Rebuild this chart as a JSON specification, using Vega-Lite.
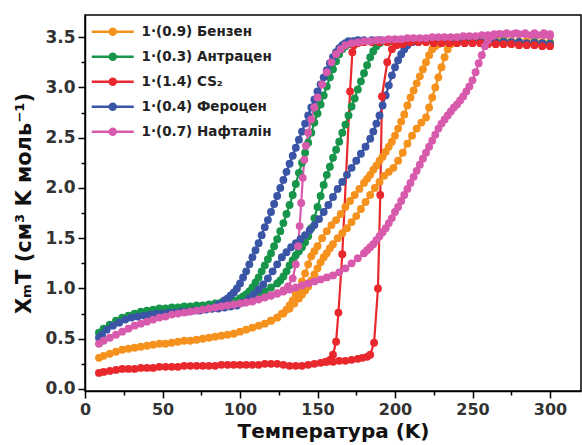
{
"$schema":"https://vega.github.io/schema/vega-lite/v6.json",
"width":496,"height":376,
"autosize":{"type":"none"},
"padding":{"left":85,"top":15,"right":1,"bottom":54},
"background":"white",
"config":{"view":{"stroke":"black","strokeWidth":1.5},"font":"DejaVu Sans"},
"data":{"values":[
{"series":"o","branch":"c","T":300,"chi":3.45},{"series":"o","branch":"c","T":295,"chi":3.45},{"series":"o","branch":"c","T":290,"chi":3.46},{"series":"o","branch":"c","T":285,"chi":3.46},{"series":"o","branch":"c","T":280,"chi":3.46},{"series":"o","branch":"c","T":275,"chi":3.46},{"series":"o","branch":"c","T":270,"chi":3.47},{"series":"o","branch":"c","T":265,"chi":3.47},{"series":"o","branch":"c","T":260,"chi":3.47},{"series":"o","branch":"c","T":255,"chi":3.47},{"series":"o","branch":"c","T":250,"chi":3.47},{"series":"o","branch":"c","T":245,"chi":3.47},{"series":"o","branch":"c","T":240,"chi":3.47},{"series":"o","branch":"c","T":235,"chi":3.46},{"series":"o","branch":"c","T":231,"chi":3.45},{"series":"o","branch":"c","T":228,"chi":3.43},{"series":"o","branch":"c","T":226,"chi":3.41},{"series":"o","branch":"c","T":224,"chi":3.38},{"series":"o","branch":"c","T":222,"chi":3.32},{"series":"o","branch":"c","T":220,"chi":3.25},{"series":"o","branch":"c","T":218,"chi":3.18},{"series":"o","branch":"c","T":216,"chi":3.11},{"series":"o","branch":"c","T":214,"chi":3.04},{"series":"o","branch":"c","T":212,"chi":2.97},{"series":"o","branch":"c","T":210,"chi":2.9},{"series":"o","branch":"c","T":208,"chi":2.82},{"series":"o","branch":"c","T":206,"chi":2.73},{"series":"o","branch":"c","T":204,"chi":2.66},{"series":"o","branch":"c","T":202,"chi":2.59},{"series":"o","branch":"c","T":200,"chi":2.52},{"series":"o","branch":"c","T":198,"chi":2.46},{"series":"o","branch":"c","T":196,"chi":2.41},{"series":"o","branch":"c","T":194,"chi":2.36},{"series":"o","branch":"c","T":192,"chi":2.31},{"series":"o","branch":"c","T":190,"chi":2.27},{"series":"o","branch":"c","T":188,"chi":2.22},{"series":"o","branch":"c","T":186,"chi":2.18},{"series":"o","branch":"c","T":184,"chi":2.13},{"series":"o","branch":"c","T":182,"chi":2.09},{"series":"o","branch":"c","T":180,"chi":2.05},{"series":"o","branch":"c","T":177,"chi":1.99},{"series":"o","branch":"c","T":174,"chi":1.93},{"series":"o","branch":"c","T":171,"chi":1.87},{"series":"o","branch":"c","T":168,"chi":1.81},{"series":"o","branch":"c","T":165,"chi":1.74},{"series":"o","branch":"c","T":162,"chi":1.68},{"series":"o","branch":"c","T":159,"chi":1.63},{"series":"o","branch":"c","T":156,"chi":1.57},{"series":"o","branch":"c","T":153,"chi":1.5},{"series":"o","branch":"c","T":150,"chi":1.42},{"series":"o","branch":"c","T":148,"chi":1.37},{"series":"o","branch":"c","T":146,"chi":1.32},{"series":"o","branch":"c","T":144,"chi":1.24},{"series":"o","branch":"c","T":142,"chi":1.15},{"series":"o","branch":"c","T":140,"chi":1.07},{"series":"o","branch":"c","T":138,"chi":1.0},{"series":"o","branch":"c","T":136,"chi":0.94},{"series":"o","branch":"c","T":134,"chi":0.88},{"series":"o","branch":"c","T":132,"chi":0.83},{"series":"o","branch":"c","T":130,"chi":0.79},{"series":"o","branch":"c","T":127,"chi":0.75},{"series":"o","branch":"c","T":124,"chi":0.71},{"series":"o","branch":"c","T":120,"chi":0.68},{"series":"o","branch":"c","T":116,"chi":0.65},{"series":"o","branch":"c","T":112,"chi":0.63},{"series":"o","branch":"c","T":108,"chi":0.61},{"series":"o","branch":"c","T":104,"chi":0.59},{"series":"o","branch":"c","T":100,"chi":0.57},{"series":"o","branch":"c","T":96,"chi":0.55},{"series":"o","branch":"c","T":92,"chi":0.54},{"series":"o","branch":"c","T":88,"chi":0.53},{"series":"o","branch":"c","T":84,"chi":0.52},{"series":"o","branch":"c","T":80,"chi":0.51},{"series":"o","branch":"c","T":76,"chi":0.5},{"series":"o","branch":"c","T":72,"chi":0.49},{"series":"o","branch":"c","T":68,"chi":0.48},{"series":"o","branch":"c","T":64,"chi":0.48},{"series":"o","branch":"c","T":60,"chi":0.47},{"series":"o","branch":"c","T":56,"chi":0.46},{"series":"o","branch":"c","T":52,"chi":0.45},{"series":"o","branch":"c","T":48,"chi":0.45},{"series":"o","branch":"c","T":44,"chi":0.44},{"series":"o","branch":"c","T":40,"chi":0.43},{"series":"o","branch":"c","T":36,"chi":0.42},{"series":"o","branch":"c","T":32,"chi":0.41},{"series":"o","branch":"c","T":28,"chi":0.4},{"series":"o","branch":"c","T":24,"chi":0.39},{"series":"o","branch":"c","T":20,"chi":0.37},{"series":"o","branch":"c","T":16,"chi":0.35},{"series":"o","branch":"c","T":12,"chi":0.33},{"series":"o","branch":"c","T":9,"chi":0.31},
{"series":"o","branch":"w","T":120,"chi":0.68},{"series":"o","branch":"w","T":124,"chi":0.71},{"series":"o","branch":"w","T":128,"chi":0.75},{"series":"o","branch":"w","T":132,"chi":0.8},{"series":"o","branch":"w","T":135,"chi":0.85},{"series":"o","branch":"w","T":138,"chi":0.9},{"series":"o","branch":"w","T":140,"chi":0.94},{"series":"o","branch":"w","T":142,"chi":0.98},{"series":"o","branch":"w","T":144,"chi":1.02},{"series":"o","branch":"w","T":146,"chi":1.08},{"series":"o","branch":"w","T":148,"chi":1.14},{"series":"o","branch":"w","T":150,"chi":1.2},{"series":"o","branch":"w","T":152,"chi":1.26},{"series":"o","branch":"w","T":154,"chi":1.31},{"series":"o","branch":"w","T":156,"chi":1.35},{"series":"o","branch":"w","T":158,"chi":1.4},{"series":"o","branch":"w","T":160,"chi":1.44},{"series":"o","branch":"w","T":163,"chi":1.5},{"series":"o","branch":"w","T":166,"chi":1.55},{"series":"o","branch":"w","T":169,"chi":1.6},{"series":"o","branch":"w","T":172,"chi":1.66},{"series":"o","branch":"w","T":175,"chi":1.72},{"series":"o","branch":"w","T":178,"chi":1.79},{"series":"o","branch":"w","T":181,"chi":1.86},{"series":"o","branch":"w","T":184,"chi":1.93},{"series":"o","branch":"w","T":187,"chi":2.0},{"series":"o","branch":"w","T":190,"chi":2.06},{"series":"o","branch":"w","T":193,"chi":2.12},{"series":"o","branch":"w","T":196,"chi":2.16},{"series":"o","branch":"w","T":199,"chi":2.2},{"series":"o","branch":"w","T":202,"chi":2.27},{"series":"o","branch":"w","T":205,"chi":2.35},{"series":"o","branch":"w","T":208,"chi":2.44},{"series":"o","branch":"w","T":211,"chi":2.52},{"series":"o","branch":"w","T":214,"chi":2.59},{"series":"o","branch":"w","T":217,"chi":2.65},{"series":"o","branch":"w","T":220,"chi":2.7},{"series":"o","branch":"w","T":222,"chi":2.8},{"series":"o","branch":"w","T":224,"chi":2.9},{"series":"o","branch":"w","T":226,"chi":3.0},{"series":"o","branch":"w","T":228,"chi":3.1},{"series":"o","branch":"w","T":230,"chi":3.2},{"series":"o","branch":"w","T":232,"chi":3.3},{"series":"o","branch":"w","T":234,"chi":3.38},{"series":"o","branch":"w","T":236,"chi":3.43},{"series":"o","branch":"w","T":239,"chi":3.46},{"series":"o","branch":"w","T":243,"chi":3.47},
{"series":"g","branch":"c","T":300,"chi":3.44},{"series":"g","branch":"c","T":290,"chi":3.45},{"series":"g","branch":"c","T":280,"chi":3.45},{"series":"g","branch":"c","T":270,"chi":3.46},{"series":"g","branch":"c","T":260,"chi":3.46},{"series":"g","branch":"c","T":250,"chi":3.46},{"series":"g","branch":"c","T":240,"chi":3.46},{"series":"g","branch":"c","T":230,"chi":3.46},{"series":"g","branch":"c","T":220,"chi":3.46},{"series":"g","branch":"c","T":210,"chi":3.46},{"series":"g","branch":"c","T":200,"chi":3.46},{"series":"g","branch":"c","T":190,"chi":3.46},{"series":"g","branch":"c","T":180,"chi":3.46},{"series":"g","branch":"c","T":175,"chi":3.45},{"series":"g","branch":"c","T":172,"chi":3.44},{"series":"g","branch":"c","T":170,"chi":3.43},{"series":"g","branch":"c","T":168,"chi":3.41},{"series":"g","branch":"c","T":166,"chi":3.38},{"series":"g","branch":"c","T":164,"chi":3.33},{"series":"g","branch":"c","T":162,"chi":3.26},{"series":"g","branch":"c","T":160,"chi":3.18},{"series":"g","branch":"c","T":158,"chi":3.1},{"series":"g","branch":"c","T":156,"chi":3.01},{"series":"g","branch":"c","T":154,"chi":2.92},{"series":"g","branch":"c","T":152,"chi":2.83},{"series":"g","branch":"c","T":150,"chi":2.74},{"series":"g","branch":"c","T":148,"chi":2.65},{"series":"g","branch":"c","T":146,"chi":2.55},{"series":"g","branch":"c","T":144,"chi":2.45},{"series":"g","branch":"c","T":142,"chi":2.35},{"series":"g","branch":"c","T":140,"chi":2.25},{"series":"g","branch":"c","T":138,"chi":2.15},{"series":"g","branch":"c","T":136,"chi":2.04},{"series":"g","branch":"c","T":134,"chi":1.93},{"series":"g","branch":"c","T":132,"chi":1.83},{"series":"g","branch":"c","T":130,"chi":1.74},{"series":"g","branch":"c","T":128,"chi":1.65},{"series":"g","branch":"c","T":126,"chi":1.57},{"series":"g","branch":"c","T":124,"chi":1.49},{"series":"g","branch":"c","T":122,"chi":1.42},{"series":"g","branch":"c","T":120,"chi":1.35},{"series":"g","branch":"c","T":118,"chi":1.29},{"series":"g","branch":"c","T":116,"chi":1.23},{"series":"g","branch":"c","T":114,"chi":1.17},{"series":"g","branch":"c","T":112,"chi":1.11},{"series":"g","branch":"c","T":110,"chi":1.06},{"series":"g","branch":"c","T":108,"chi":1.01},{"series":"g","branch":"c","T":106,"chi":0.97},{"series":"g","branch":"c","T":104,"chi":0.94},{"series":"g","branch":"c","T":102,"chi":0.92},{"series":"g","branch":"c","T":100,"chi":0.9},{"series":"g","branch":"c","T":96,"chi":0.88},{"series":"g","branch":"c","T":92,"chi":0.87},{"series":"g","branch":"c","T":88,"chi":0.86},{"series":"g","branch":"c","T":84,"chi":0.85},{"series":"g","branch":"c","T":80,"chi":0.84},{"series":"g","branch":"c","T":76,"chi":0.83},{"series":"g","branch":"c","T":72,"chi":0.83},{"series":"g","branch":"c","T":68,"chi":0.82},{"series":"g","branch":"c","T":64,"chi":0.82},{"series":"g","branch":"c","T":60,"chi":0.81},{"series":"g","branch":"c","T":56,"chi":0.81},{"series":"g","branch":"c","T":52,"chi":0.8},{"series":"g","branch":"c","T":48,"chi":0.8},{"series":"g","branch":"c","T":44,"chi":0.79},{"series":"g","branch":"c","T":40,"chi":0.78},{"series":"g","branch":"c","T":36,"chi":0.77},{"series":"g","branch":"c","T":32,"chi":0.75},{"series":"g","branch":"c","T":28,"chi":0.73},{"series":"g","branch":"c","T":24,"chi":0.71},{"series":"g","branch":"c","T":20,"chi":0.68},{"series":"g","branch":"c","T":16,"chi":0.64},{"series":"g","branch":"c","T":12,"chi":0.6},{"series":"g","branch":"c","T":9,"chi":0.56},
{"series":"g","branch":"w","T":100,"chi":0.89},{"series":"g","branch":"w","T":104,"chi":0.9},{"series":"g","branch":"w","T":108,"chi":0.92},{"series":"g","branch":"w","T":112,"chi":0.94},{"series":"g","branch":"w","T":116,"chi":0.97},{"series":"g","branch":"w","T":120,"chi":1.01},{"series":"g","branch":"w","T":124,"chi":1.05},{"series":"g","branch":"w","T":126,"chi":1.08},{"series":"g","branch":"w","T":128,"chi":1.12},{"series":"g","branch":"w","T":130,"chi":1.17},{"series":"g","branch":"w","T":132,"chi":1.23},{"series":"g","branch":"w","T":134,"chi":1.28},{"series":"g","branch":"w","T":136,"chi":1.33},{"series":"g","branch":"w","T":138,"chi":1.37},{"series":"g","branch":"w","T":140,"chi":1.41},{"series":"g","branch":"w","T":142,"chi":1.46},{"series":"g","branch":"w","T":144,"chi":1.52},{"series":"g","branch":"w","T":146,"chi":1.6},{"series":"g","branch":"w","T":148,"chi":1.7},{"series":"g","branch":"w","T":150,"chi":1.81},{"series":"g","branch":"w","T":152,"chi":1.92},{"series":"g","branch":"w","T":154,"chi":2.03},{"series":"g","branch":"w","T":156,"chi":2.13},{"series":"g","branch":"w","T":158,"chi":2.21},{"series":"g","branch":"w","T":160,"chi":2.3},{"series":"g","branch":"w","T":162,"chi":2.38},{"series":"g","branch":"w","T":164,"chi":2.46},{"series":"g","branch":"w","T":166,"chi":2.55},{"series":"g","branch":"w","T":168,"chi":2.63},{"series":"g","branch":"w","T":170,"chi":2.72},{"series":"g","branch":"w","T":172,"chi":2.81},{"series":"g","branch":"w","T":174,"chi":2.89},{"series":"g","branch":"w","T":176,"chi":2.98},{"series":"g","branch":"w","T":178,"chi":3.06},{"series":"g","branch":"w","T":180,"chi":3.14},{"series":"g","branch":"w","T":182,"chi":3.22},{"series":"g","branch":"w","T":184,"chi":3.3},{"series":"g","branch":"w","T":186,"chi":3.36},{"series":"g","branch":"w","T":188,"chi":3.41},{"series":"g","branch":"w","T":190,"chi":3.44},{"series":"g","branch":"w","T":193,"chi":3.46},{"series":"g","branch":"w","T":197,"chi":3.46},
{"series":"b","branch":"c","T":300,"chi":3.43},{"series":"b","branch":"c","T":295,"chi":3.44},{"series":"b","branch":"c","T":290,"chi":3.44},{"series":"b","branch":"c","T":285,"chi":3.44},{"series":"b","branch":"c","T":280,"chi":3.45},{"series":"b","branch":"c","T":275,"chi":3.45},{"series":"b","branch":"c","T":270,"chi":3.45},{"series":"b","branch":"c","T":265,"chi":3.45},{"series":"b","branch":"c","T":260,"chi":3.45},{"series":"b","branch":"c","T":255,"chi":3.46},{"series":"b","branch":"c","T":250,"chi":3.46},{"series":"b","branch":"c","T":245,"chi":3.46},{"series":"b","branch":"c","T":240,"chi":3.46},{"series":"b","branch":"c","T":235,"chi":3.46},{"series":"b","branch":"c","T":230,"chi":3.46},{"series":"b","branch":"c","T":225,"chi":3.47},{"series":"b","branch":"c","T":220,"chi":3.47},{"series":"b","branch":"c","T":215,"chi":3.47},{"series":"b","branch":"c","T":210,"chi":3.47},{"series":"b","branch":"c","T":205,"chi":3.47},{"series":"b","branch":"c","T":200,"chi":3.47},{"series":"b","branch":"c","T":195,"chi":3.47},{"series":"b","branch":"c","T":190,"chi":3.47},{"series":"b","branch":"c","T":185,"chi":3.47},{"series":"b","branch":"c","T":180,"chi":3.47},{"series":"b","branch":"c","T":176,"chi":3.47},{"series":"b","branch":"c","T":173,"chi":3.46},{"series":"b","branch":"c","T":170,"chi":3.46},{"series":"b","branch":"c","T":168,"chi":3.44},{"series":"b","branch":"c","T":166,"chi":3.42},{"series":"b","branch":"c","T":164,"chi":3.39},{"series":"b","branch":"c","T":162,"chi":3.35},{"series":"b","branch":"c","T":160,"chi":3.3},{"series":"b","branch":"c","T":158,"chi":3.24},{"series":"b","branch":"c","T":156,"chi":3.17},{"series":"b","branch":"c","T":154,"chi":3.1},{"series":"b","branch":"c","T":152,"chi":3.03},{"series":"b","branch":"c","T":150,"chi":2.96},{"series":"b","branch":"c","T":148,"chi":2.88},{"series":"b","branch":"c","T":146,"chi":2.8},{"series":"b","branch":"c","T":144,"chi":2.72},{"series":"b","branch":"c","T":142,"chi":2.64},{"series":"b","branch":"c","T":140,"chi":2.56},{"series":"b","branch":"c","T":138,"chi":2.48},{"series":"b","branch":"c","T":136,"chi":2.4},{"series":"b","branch":"c","T":134,"chi":2.32},{"series":"b","branch":"c","T":132,"chi":2.24},{"series":"b","branch":"c","T":130,"chi":2.16},{"series":"b","branch":"c","T":128,"chi":2.08},{"series":"b","branch":"c","T":126,"chi":2.0},{"series":"b","branch":"c","T":124,"chi":1.92},{"series":"b","branch":"c","T":122,"chi":1.84},{"series":"b","branch":"c","T":120,"chi":1.76},{"series":"b","branch":"c","T":118,"chi":1.68},{"series":"b","branch":"c","T":116,"chi":1.61},{"series":"b","branch":"c","T":114,"chi":1.53},{"series":"b","branch":"c","T":112,"chi":1.45},{"series":"b","branch":"c","T":110,"chi":1.38},{"series":"b","branch":"c","T":108,"chi":1.31},{"series":"b","branch":"c","T":106,"chi":1.24},{"series":"b","branch":"c","T":104,"chi":1.17},{"series":"b","branch":"c","T":102,"chi":1.11},{"series":"b","branch":"c","T":100,"chi":1.05},{"series":"b","branch":"c","T":98,"chi":1.0},{"series":"b","branch":"c","T":96,"chi":0.96},{"series":"b","branch":"c","T":94,"chi":0.93},{"series":"b","branch":"c","T":92,"chi":0.9},{"series":"b","branch":"c","T":90,"chi":0.88},{"series":"b","branch":"c","T":86,"chi":0.84},{"series":"b","branch":"c","T":82,"chi":0.8},{"series":"b","branch":"c","T":78,"chi":0.79},{"series":"b","branch":"c","T":74,"chi":0.78},{"series":"b","branch":"c","T":70,"chi":0.78},{"series":"b","branch":"c","T":66,"chi":0.77},{"series":"b","branch":"c","T":62,"chi":0.77},{"series":"b","branch":"c","T":58,"chi":0.76},{"series":"b","branch":"c","T":54,"chi":0.76},{"series":"b","branch":"c","T":50,"chi":0.75},{"series":"b","branch":"c","T":46,"chi":0.75},{"series":"b","branch":"c","T":42,"chi":0.74},{"series":"b","branch":"c","T":38,"chi":0.73},{"series":"b","branch":"c","T":34,"chi":0.72},{"series":"b","branch":"c","T":30,"chi":0.71},{"series":"b","branch":"c","T":26,"chi":0.69},{"series":"b","branch":"c","T":22,"chi":0.66},{"series":"b","branch":"c","T":18,"chi":0.63},{"series":"b","branch":"c","T":14,"chi":0.59},{"series":"b","branch":"c","T":11,"chi":0.54},{"series":"b","branch":"c","T":9,"chi":0.51},
{"series":"b","branch":"w","T":82,"chi":0.8},{"series":"b","branch":"w","T":86,"chi":0.8},{"series":"b","branch":"w","T":90,"chi":0.81},{"series":"b","branch":"w","T":94,"chi":0.82},{"series":"b","branch":"w","T":98,"chi":0.83},{"series":"b","branch":"w","T":102,"chi":0.86},{"series":"b","branch":"w","T":106,"chi":0.9},{"series":"b","branch":"w","T":109,"chi":0.94},{"series":"b","branch":"w","T":112,"chi":0.99},{"series":"b","branch":"w","T":115,"chi":1.04},{"series":"b","branch":"w","T":118,"chi":1.1},{"series":"b","branch":"w","T":121,"chi":1.17},{"series":"b","branch":"w","T":124,"chi":1.24},{"series":"b","branch":"w","T":127,"chi":1.31},{"series":"b","branch":"w","T":130,"chi":1.36},{"series":"b","branch":"w","T":133,"chi":1.41},{"series":"b","branch":"w","T":136,"chi":1.45},{"series":"b","branch":"w","T":139,"chi":1.49},{"series":"b","branch":"w","T":142,"chi":1.53},{"series":"b","branch":"w","T":145,"chi":1.58},{"series":"b","branch":"w","T":148,"chi":1.63},{"series":"b","branch":"w","T":151,"chi":1.69},{"series":"b","branch":"w","T":154,"chi":1.76},{"series":"b","branch":"w","T":157,"chi":1.83},{"series":"b","branch":"w","T":160,"chi":1.91},{"series":"b","branch":"w","T":163,"chi":1.99},{"series":"b","branch":"w","T":166,"chi":2.06},{"series":"b","branch":"w","T":169,"chi":2.13},{"series":"b","branch":"w","T":172,"chi":2.2},{"series":"b","branch":"w","T":175,"chi":2.27},{"series":"b","branch":"w","T":178,"chi":2.34},{"series":"b","branch":"w","T":181,"chi":2.41},{"series":"b","branch":"w","T":184,"chi":2.49},{"series":"b","branch":"w","T":186,"chi":2.56},{"series":"b","branch":"w","T":188,"chi":2.64},{"series":"b","branch":"w","T":190,"chi":2.72},{"series":"b","branch":"w","T":192,"chi":2.82},{"series":"b","branch":"w","T":194,"chi":2.92},{"series":"b","branch":"w","T":196,"chi":3.02},{"series":"b","branch":"w","T":198,"chi":3.12},{"series":"b","branch":"w","T":200,"chi":3.2},{"series":"b","branch":"w","T":202,"chi":3.27},{"series":"b","branch":"w","T":204,"chi":3.33},{"series":"b","branch":"w","T":206,"chi":3.38},{"series":"b","branch":"w","T":208,"chi":3.42},{"series":"b","branch":"w","T":211,"chi":3.45},{"series":"b","branch":"w","T":215,"chi":3.46},
{"series":"r","branch":"c","T":300,"chi":3.41},{"series":"r","branch":"c","T":295,"chi":3.41},{"series":"r","branch":"c","T":290,"chi":3.42},{"series":"r","branch":"c","T":285,"chi":3.42},{"series":"r","branch":"c","T":280,"chi":3.42},{"series":"r","branch":"c","T":275,"chi":3.43},{"series":"r","branch":"c","T":270,"chi":3.43},{"series":"r","branch":"c","T":265,"chi":3.43},{"series":"r","branch":"c","T":260,"chi":3.43},{"series":"r","branch":"c","T":255,"chi":3.44},{"series":"r","branch":"c","T":250,"chi":3.44},{"series":"r","branch":"c","T":245,"chi":3.44},{"series":"r","branch":"c","T":240,"chi":3.44},{"series":"r","branch":"c","T":235,"chi":3.44},{"series":"r","branch":"c","T":230,"chi":3.44},{"series":"r","branch":"c","T":225,"chi":3.44},{"series":"r","branch":"c","T":220,"chi":3.45},{"series":"r","branch":"c","T":215,"chi":3.45},{"series":"r","branch":"c","T":210,"chi":3.45},{"series":"r","branch":"c","T":205,"chi":3.45},{"series":"r","branch":"c","T":200,"chi":3.45},{"series":"r","branch":"c","T":195,"chi":3.45},{"series":"r","branch":"c","T":190,"chi":3.45},{"series":"r","branch":"c","T":185,"chi":3.45},{"series":"r","branch":"c","T":180,"chi":3.45},{"series":"r","branch":"c","T":176,"chi":3.44},{"series":"r","branch":"c","T":173.5,"chi":3.42},{"series":"r","branch":"c","T":172.5,"chi":3.35},{"series":"r","branch":"c","T":171,"chi":2.96},{"series":"r","branch":"c","T":166,"chi":1.34},{"series":"r","branch":"c","T":163.5,"chi":0.76},{"series":"r","branch":"c","T":162,"chi":0.47},{"series":"r","branch":"c","T":160,"chi":0.34},{"series":"r","branch":"c","T":158,"chi":0.29},{"series":"r","branch":"c","T":155,"chi":0.27},{"series":"r","branch":"c","T":152,"chi":0.26},{"series":"r","branch":"c","T":148,"chi":0.25},{"series":"r","branch":"c","T":144,"chi":0.24},{"series":"r","branch":"c","T":140,"chi":0.23},{"series":"r","branch":"c","T":136,"chi":0.23},{"series":"r","branch":"c","T":132,"chi":0.23},{"series":"r","branch":"c","T":128,"chi":0.24},{"series":"r","branch":"c","T":124,"chi":0.25},{"series":"r","branch":"c","T":120,"chi":0.25},{"series":"r","branch":"c","T":116,"chi":0.25},{"series":"r","branch":"c","T":112,"chi":0.24},{"series":"r","branch":"c","T":108,"chi":0.24},{"series":"r","branch":"c","T":104,"chi":0.24},{"series":"r","branch":"c","T":100,"chi":0.24},{"series":"r","branch":"c","T":96,"chi":0.24},{"series":"r","branch":"c","T":92,"chi":0.24},{"series":"r","branch":"c","T":88,"chi":0.24},{"series":"r","branch":"c","T":84,"chi":0.23},{"series":"r","branch":"c","T":80,"chi":0.23},{"series":"r","branch":"c","T":76,"chi":0.23},{"series":"r","branch":"c","T":72,"chi":0.23},{"series":"r","branch":"c","T":68,"chi":0.23},{"series":"r","branch":"c","T":64,"chi":0.23},{"series":"r","branch":"c","T":60,"chi":0.22},{"series":"r","branch":"c","T":56,"chi":0.22},{"series":"r","branch":"c","T":52,"chi":0.22},{"series":"r","branch":"c","T":48,"chi":0.22},{"series":"r","branch":"c","T":44,"chi":0.21},{"series":"r","branch":"c","T":40,"chi":0.21},{"series":"r","branch":"c","T":36,"chi":0.21},{"series":"r","branch":"c","T":32,"chi":0.2},{"series":"r","branch":"c","T":28,"chi":0.2},{"series":"r","branch":"c","T":24,"chi":0.2},{"series":"r","branch":"c","T":20,"chi":0.19},{"series":"r","branch":"c","T":16,"chi":0.18},{"series":"r","branch":"c","T":12,"chi":0.17},{"series":"r","branch":"c","T":9,"chi":0.16},
{"series":"r","branch":"w","T":156,"chi":0.27},{"series":"r","branch":"w","T":160,"chi":0.27},{"series":"r","branch":"w","T":164,"chi":0.28},{"series":"r","branch":"w","T":168,"chi":0.28},{"series":"r","branch":"w","T":172,"chi":0.29},{"series":"r","branch":"w","T":176,"chi":0.3},{"series":"r","branch":"w","T":179,"chi":0.31},{"series":"r","branch":"w","T":182,"chi":0.32},{"series":"r","branch":"w","T":184,"chi":0.34},{"series":"r","branch":"w","T":186.5,"chi":0.46},{"series":"r","branch":"w","T":189,"chi":1.0},{"series":"r","branch":"w","T":190.5,"chi":1.93},{"series":"r","branch":"w","T":191.6,"chi":2.91},{"series":"r","branch":"w","T":195,"chi":3.25},{"series":"r","branch":"w","T":198,"chi":3.38},{"series":"r","branch":"w","T":201,"chi":3.42},{"series":"r","branch":"w","T":205,"chi":3.43},
{"series":"p","branch":"c","T":300,"chi":3.51},{"series":"p","branch":"c","T":296,"chi":3.52},{"series":"p","branch":"c","T":292,"chi":3.52},{"series":"p","branch":"c","T":288,"chi":3.52},{"series":"p","branch":"c","T":284,"chi":3.53},{"series":"p","branch":"c","T":280,"chi":3.53},{"series":"p","branch":"c","T":276,"chi":3.53},{"series":"p","branch":"c","T":272,"chi":3.53},{"series":"p","branch":"c","T":268,"chi":3.53},{"series":"p","branch":"c","T":264,"chi":3.53},{"series":"p","branch":"c","T":260,"chi":3.52},{"series":"p","branch":"c","T":256,"chi":3.52},{"series":"p","branch":"c","T":252,"chi":3.51},{"series":"p","branch":"c","T":248,"chi":3.51},{"series":"p","branch":"c","T":244,"chi":3.51},{"series":"p","branch":"c","T":240,"chi":3.5},{"series":"p","branch":"c","T":236,"chi":3.5},{"series":"p","branch":"c","T":232,"chi":3.5},{"series":"p","branch":"c","T":228,"chi":3.5},{"series":"p","branch":"c","T":224,"chi":3.5},{"series":"p","branch":"c","T":220,"chi":3.49},{"series":"p","branch":"c","T":216,"chi":3.49},{"series":"p","branch":"c","T":212,"chi":3.49},{"series":"p","branch":"c","T":208,"chi":3.49},{"series":"p","branch":"c","T":204,"chi":3.48},{"series":"p","branch":"c","T":200,"chi":3.48},{"series":"p","branch":"c","T":196,"chi":3.48},{"series":"p","branch":"c","T":192,"chi":3.47},{"series":"p","branch":"c","T":188,"chi":3.47},{"series":"p","branch":"c","T":184,"chi":3.46},{"series":"p","branch":"c","T":180,"chi":3.46},{"series":"p","branch":"c","T":176,"chi":3.45},{"series":"p","branch":"c","T":172,"chi":3.44},{"series":"p","branch":"c","T":168,"chi":3.42},{"series":"p","branch":"c","T":165,"chi":3.38},{"series":"p","branch":"c","T":162,"chi":3.33},{"series":"p","branch":"c","T":159,"chi":3.25},{"series":"p","branch":"c","T":156,"chi":3.15},{"series":"p","branch":"c","T":153,"chi":3.03},{"series":"p","branch":"c","T":150,"chi":2.9},{"series":"p","branch":"c","T":148,"chi":2.8},{"series":"p","branch":"c","T":146,"chi":2.68},{"series":"p","branch":"c","T":144,"chi":2.55},{"series":"p","branch":"c","T":142.5,"chi":2.42},{"series":"p","branch":"c","T":141.5,"chi":2.28},{"series":"p","branch":"c","T":140.5,"chi":2.1},{"series":"p","branch":"c","T":139.5,"chi":1.85},{"series":"p","branch":"c","T":138.5,"chi":1.62},{"series":"p","branch":"c","T":137.5,"chi":1.42},{"series":"p","branch":"c","T":136,"chi":1.24},{"series":"p","branch":"c","T":134,"chi":1.1},{"series":"p","branch":"c","T":131,"chi":1.02},{"series":"p","branch":"c","T":128,"chi":0.98},{"series":"p","branch":"c","T":124,"chi":0.95},{"series":"p","branch":"c","T":120,"chi":0.93},{"series":"p","branch":"c","T":116,"chi":0.91},{"series":"p","branch":"c","T":112,"chi":0.89},{"series":"p","branch":"c","T":108,"chi":0.87},{"series":"p","branch":"c","T":104,"chi":0.86},{"series":"p","branch":"c","T":100,"chi":0.85},{"series":"p","branch":"c","T":96,"chi":0.84},{"series":"p","branch":"c","T":92,"chi":0.83},{"series":"p","branch":"c","T":88,"chi":0.82},{"series":"p","branch":"c","T":84,"chi":0.81},{"series":"p","branch":"c","T":80,"chi":0.8},{"series":"p","branch":"c","T":76,"chi":0.79},{"series":"p","branch":"c","T":72,"chi":0.78},{"series":"p","branch":"c","T":68,"chi":0.77},{"series":"p","branch":"c","T":64,"chi":0.76},{"series":"p","branch":"c","T":60,"chi":0.75},{"series":"p","branch":"c","T":56,"chi":0.74},{"series":"p","branch":"c","T":52,"chi":0.72},{"series":"p","branch":"c","T":48,"chi":0.71},{"series":"p","branch":"c","T":44,"chi":0.69},{"series":"p","branch":"c","T":40,"chi":0.67},{"series":"p","branch":"c","T":36,"chi":0.65},{"series":"p","branch":"c","T":32,"chi":0.63},{"series":"p","branch":"c","T":28,"chi":0.6},{"series":"p","branch":"c","T":24,"chi":0.57},{"series":"p","branch":"c","T":20,"chi":0.54},{"series":"p","branch":"c","T":16,"chi":0.51},{"series":"p","branch":"c","T":12,"chi":0.48},{"series":"p","branch":"c","T":9,"chi":0.45},
{"series":"p","branch":"w","T":120,"chi":0.93},{"series":"p","branch":"w","T":124,"chi":0.95},{"series":"p","branch":"w","T":128,"chi":0.97},{"series":"p","branch":"w","T":132,"chi":0.99},{"series":"p","branch":"w","T":136,"chi":1.01},{"series":"p","branch":"w","T":140,"chi":1.03},{"series":"p","branch":"w","T":144,"chi":1.05},{"series":"p","branch":"w","T":148,"chi":1.07},{"series":"p","branch":"w","T":152,"chi":1.09},{"series":"p","branch":"w","T":156,"chi":1.11},{"series":"p","branch":"w","T":160,"chi":1.13},{"series":"p","branch":"w","T":164,"chi":1.16},{"series":"p","branch":"w","T":168,"chi":1.2},{"series":"p","branch":"w","T":172,"chi":1.25},{"series":"p","branch":"w","T":176,"chi":1.3},{"series":"p","branch":"w","T":180,"chi":1.35},{"series":"p","branch":"w","T":182,"chi":1.38},{"series":"p","branch":"w","T":184,"chi":1.41},{"series":"p","branch":"w","T":186,"chi":1.44},{"series":"p","branch":"w","T":188,"chi":1.48},{"series":"p","branch":"w","T":190,"chi":1.52},{"series":"p","branch":"w","T":192,"chi":1.56},{"series":"p","branch":"w","T":194,"chi":1.6},{"series":"p","branch":"w","T":196,"chi":1.65},{"series":"p","branch":"w","T":198,"chi":1.7},{"series":"p","branch":"w","T":200,"chi":1.76},{"series":"p","branch":"w","T":202,"chi":1.81},{"series":"p","branch":"w","T":204,"chi":1.87},{"series":"p","branch":"w","T":206,"chi":1.93},{"series":"p","branch":"w","T":208,"chi":1.99},{"series":"p","branch":"w","T":210,"chi":2.05},{"series":"p","branch":"w","T":212,"chi":2.11},{"series":"p","branch":"w","T":214,"chi":2.17},{"series":"p","branch":"w","T":216,"chi":2.23},{"series":"p","branch":"w","T":218,"chi":2.29},{"series":"p","branch":"w","T":220,"chi":2.35},{"series":"p","branch":"w","T":222,"chi":2.41},{"series":"p","branch":"w","T":224,"chi":2.47},{"series":"p","branch":"w","T":226,"chi":2.53},{"series":"p","branch":"w","T":228,"chi":2.59},{"series":"p","branch":"w","T":230,"chi":2.64},{"series":"p","branch":"w","T":232,"chi":2.68},{"series":"p","branch":"w","T":234,"chi":2.72},{"series":"p","branch":"w","T":236,"chi":2.76},{"series":"p","branch":"w","T":238,"chi":2.8},{"series":"p","branch":"w","T":240,"chi":2.83},{"series":"p","branch":"w","T":242,"chi":2.87},{"series":"p","branch":"w","T":244,"chi":2.91},{"series":"p","branch":"w","T":246,"chi":2.96},{"series":"p","branch":"w","T":248,"chi":3.01},{"series":"p","branch":"w","T":250,"chi":3.07},{"series":"p","branch":"w","T":252,"chi":3.15},{"series":"p","branch":"w","T":254,"chi":3.24},{"series":"p","branch":"w","T":256,"chi":3.32},{"series":"p","branch":"w","T":258,"chi":3.41},{"series":"p","branch":"w","T":260,"chi":3.47},{"series":"p","branch":"w","T":263,"chi":3.51},{"series":"p","branch":"w","T":267,"chi":3.53},{"series":"p","branch":"w","T":272,"chi":3.54},{"series":"p","branch":"w","T":278,"chi":3.54},{"series":"p","branch":"w","T":284,"chi":3.54},{"series":"p","branch":"w","T":290,"chi":3.54},{"series":"p","branch":"w","T":296,"chi":3.54},{"series":"p","branch":"w","T":300,"chi":3.53}
]},
"encoding":{
"x":{"field":"T","type":"quantitative","scale":{"domain":[0,320],"nice":false,"zero":false},
 "axis":{"values":[0,25,50,75,100,125,150,175,200,225,250,275,300],"format":"d","labelExpr":"datum.value % 50 === 0 ? datum.label : ''",
 "tickSize":{"condition":{"test":"datum.value % 50 === 0","value":7},"value":4},"tickColor":"black","tickWidth":1.5,"domainColor":"black","domainWidth":1.5,
 "labelFont":"DejaVu Sans","labelFontWeight":"bold","labelFontSize":16,"labelColor":"#333","labelPadding":3,"labelFlush":false,"labelOverlap":false,
 "title":"Температура (K)","titleFont":"DejaVu Sans","titleFontSize":20,"titleFontWeight":"bold","titleColor":"#111","titlePadding":4,"grid":false}},
"y":{"field":"chi","type":"quantitative","scale":{"domain":[-0.02,3.72],"nice":false,"zero":false},
 "axis":{"values":[0,0.25,0.5,0.75,1,1.25,1.5,1.75,2,2.25,2.5,2.75,3,3.25,3.5],"format":".1f","labelExpr":"abs(datum.value*2-round(datum.value*2))<0.01 ? datum.label : ''",
 "tickSize":{"condition":{"test":"abs(datum.value*2-round(datum.value*2))<0.01","value":7},"value":4},"tickColor":"black","tickWidth":1.5,"domainColor":"black","domainWidth":1.5,
 "labelFont":"DejaVu Sans","labelFontWeight":"bold","labelFontSize":17,"labelColor":"#333","labelPadding":3,"labelFlush":false,"labelOverlap":false,
 "title":"XₘT (см³ K моль⁻¹)","titleFont":"DejaVu Sans","titleFontSize":21,"titleFontWeight":"bold","titleColor":"#111","titlePadding":10,"grid":false}},
"color":{"field":"series","type":"nominal","scale":{"domain":["o","g","r","b","p"],"range":["#F5921E","#17964B","#E8282C","#3A55A6","#D85AAC"]},
 "legend":{"orient":"none","legendX":21,"legendY":10,"title":null,"padding":0,
  "symbolType":"M-4.2,-0.24H4.2V0.24H-4.2Z M-0.85,0A0.85,0.85 0 1,1 0.85,0A0.85,0.85 0 1,1 -0.85,0Z","symbolSize":100,"symbolStrokeWidth":0,"symbolOpacity":1,
  "labelOffset":22,"labelFont":"DejaVu Sans","labelFontSize":13.5,"labelFontWeight":"bold","labelColor":"#222","rowPadding":10,
  "labelExpr":"{'o':'1·(0.9) Бензен','g':'1·(0.3) Антрацен','r':'1·(1.4) CS₂','b':'1·(0.4) Фероцен','p':'1·(0.7) Нафталін'}[datum.label]",
  "encode":{"symbols":{"update":{"fill":{"scale":"color","field":"value"},"opacity":{"value":1}}}}}},
"detail":{"field":"branch"}
},
"layer":[
{"mark":{"type":"line","strokeWidth":2.2,"clip":true}},
{"mark":{"type":"point","filled":true,"size":62,"opacity":1,"clip":true}}
]
}
